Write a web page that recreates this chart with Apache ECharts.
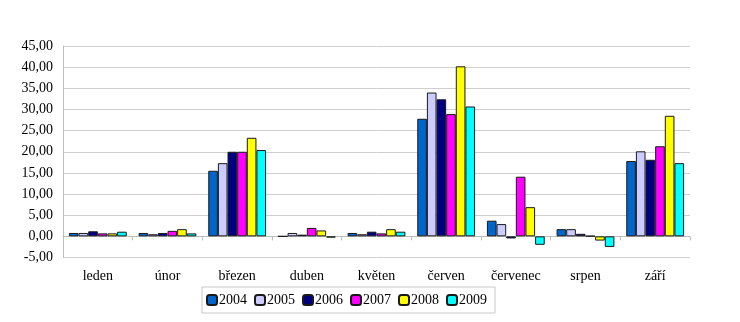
<!DOCTYPE html>
<html>
<head>
<meta charset="utf-8">
<script src="https://cdn.jsdelivr.net/npm/echarts@6/dist/echarts.min.js"></script>
<style>
  html, body { margin: 0; padding: 0; background: #fff; }
  #chart { width: 740px; height: 322px; }
</style>
</head>
<body>
<div id="chart"></div>
<script>
// Months
const categories = ['leden', 'únor', 'březen', 'duben', 'květen', 'červen', 'červenec', 'srpen', 'září'];
const years = ['2004', '2005', '2006', '2007', '2008', '2009'];

// Values per year, one per month
const v2004 = [0.8, 0.8, 15.5, 0.0, 0.8, 27.8, 3.7, 1.7, 17.8];
const v2005 = [0.8, 0.5, 17.3, 0.8, 0.5, 34.0, 2.9, 1.7, 20.1];
const v2006 = [1.2, 0.8, 20.0, 0.4, 1.1, 32.4, -0.5, 0.6, 18.1];
const v2007 = [0.7, 1.3, 20.0, 2.0, 0.7, 28.9, 14.1, 0.1, 21.3];
const v2008 = [0.7, 1.7, 23.3, 1.4, 1.7, 40.2, 6.9, -1.0, 28.5];
const v2009 = [1.1, 0.7, 20.4, -0.3, 1.1, 30.7, -2.0, -2.5, 17.3];

const seriesValues = [v2004, v2005, v2006, v2007, v2008, v2009];
const colors = ['#0066CC', '#CCCCFF', '#000080', '#FF00FF', '#FFFF00', '#00FFFF'];

const serif = '"Liberation Serif", "DejaVu Serif", serif';

const chart = echarts.init(document.getElementById('chart'));
chart.setOption({
  animation: false,
  backgroundColor: '#ffffff',
  grid: { left: 63, right: 50, top: 46, bottom: 64.5 },
  legend: {
    bottom: 9,
    left: 202,
    itemWidth: 10,
    itemHeight: 10,
    itemGap: 7,
    padding: [6, 8, 6, 4],
    borderColor: '#c8c8c8',
    borderWidth: 1,
    textStyle: { fontFamily: serif, fontSize: 14, color: '#000', padding: [0, 0, 0, -3] },
    data: years
  },
  xAxis: [
    {
      type: 'category',
      data: categories,
      axisLine: { onZero: true, lineStyle: { color: '#bdbdbd', width: 1 } },
      axisTick: { show: true, length: 4, lineStyle: { color: '#bdbdbd' } },
      axisLabel: { show: false }
    },
    {
      type: 'category',
      data: categories,
      position: 'bottom',
      axisLine: { show: false },
      axisTick: { show: false },
      axisLabel: { fontFamily: serif, fontSize: 14, color: '#000', margin: 12 }
    }
  ],
  yAxis: {
    type: 'value',
    min: -5,
    max: 45,
    interval: 5,
    axisLine: { show: true, lineStyle: { color: '#bdbdbd' } },
    axisTick: { show: false },
    splitLine: { lineStyle: { color: '#cfcfcf', width: 1 } },
    axisLabel: {
      fontFamily: serif,
      fontSize: 14,
      color: '#000',
      margin: 10,
      formatter: v => v.toFixed(2).replace('.', ',')
    }
  },
  series: years.map((y, i) => ({
    name: y,
    type: 'bar',
    xAxisIndex: 0,
    data: seriesValues[i],
    barGap: '0%',
    barCategoryGap: '17%',
    itemStyle: { color: colors[i], borderColor: '#1a1a1a', borderWidth: 1 }
  }))
});
</script>
</body>
</html>
